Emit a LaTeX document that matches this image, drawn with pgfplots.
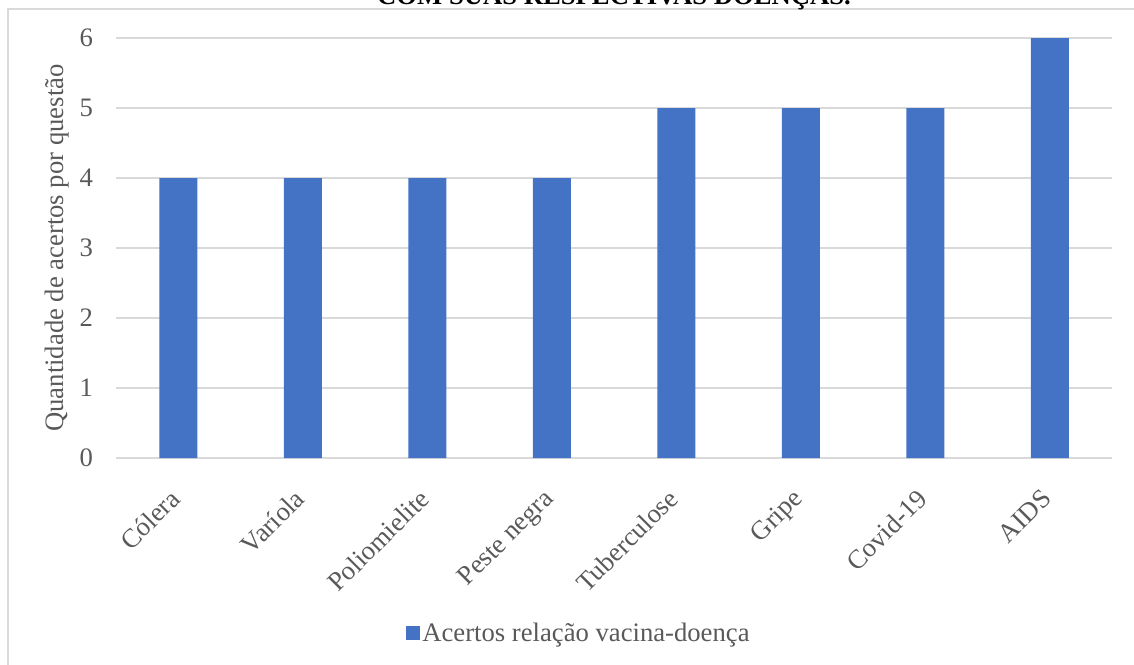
\documentclass[border=0pt]{standalone}
\usepackage{pgfplots}
\pgfplotsset{compat=1.18}
\usepackage{fontspec}
\setmainfont{Liberation Serif}
\definecolor{barblue}{HTML}{4472C4}
\definecolor{gridgray}{HTML}{D9D9D9}
\definecolor{txtgray}{HTML}{595959}
\begin{document}
\begin{tikzpicture}[x=0.75pt,y=0.75pt]
\useasboundingbox (0,0) rectangle (1134,664);
\begin{scope}
\clip (0,0) rectangle (1134,664);
\draw[gridgray, line width=1.1pt] (8,655) rectangle (1150,-10);
\node[anchor=base, inner sep=0pt, font=\bfseries\fontsize{20}{22}\selectfont] at (614,659) {COM SUAS RESPECTIVAS DOENÇAS.};
\begin{axis}[
  at={(87pt,154.5pt)}, anchor=south west,
  scale only axis, width=747pt, height=315pt,
  xmin=-0.5, xmax=7.5, ymin=0, ymax=6,
  ybar, bar width=28.5pt,
  xtick={0,...,7},
  xticklabels={Cólera,Varíola,Poliomielite,Peste negra,Tuberculose,Gripe,Covid-19,AIDS},
  ytick={0,...,6},
  ymajorgrids, grid style={gridgray, line width=0.9pt},
  axis line style={draw=none}, major tick length=0,
  tick label style={font=\fontsize{20}{22}\selectfont, text=txtgray},
  /pgf/number format/assume math mode=true,
  yticklabel style={inner sep=0pt, anchor=east, xshift=-17pt},
  xticklabel style={inner sep=0pt, xshift=-7.3pt, yshift=-22pt, rotate=45, anchor=north east},
  ylabel={Quantidade de acertos por questão},
  every axis y label/.style={at={(axis description cs:-0.0592,0.5)}, rotate=90, anchor=center, font=\fontsize{20}{22}\selectfont, text=txtgray},
  legend style={at={(axis description cs:0.4648,-0.4167)}, anchor=center, draw=none, fill=none, font=\fontsize{20}{22}\selectfont, text=txtgray, inner sep=0pt},
  legend image code/.code={\fill[barblue] (0pt,-5.25pt) rectangle (10.5pt,5.25pt);},
]
\addplot[fill=barblue, draw=none] coordinates {(0,4) (1,4) (2,4) (3,4) (4,5) (5,5) (6,5) (7,6)};
\addlegendentry{Acertos relação vacina-doença}
\end{axis}
\end{scope}
\end{tikzpicture}
\end{document}
